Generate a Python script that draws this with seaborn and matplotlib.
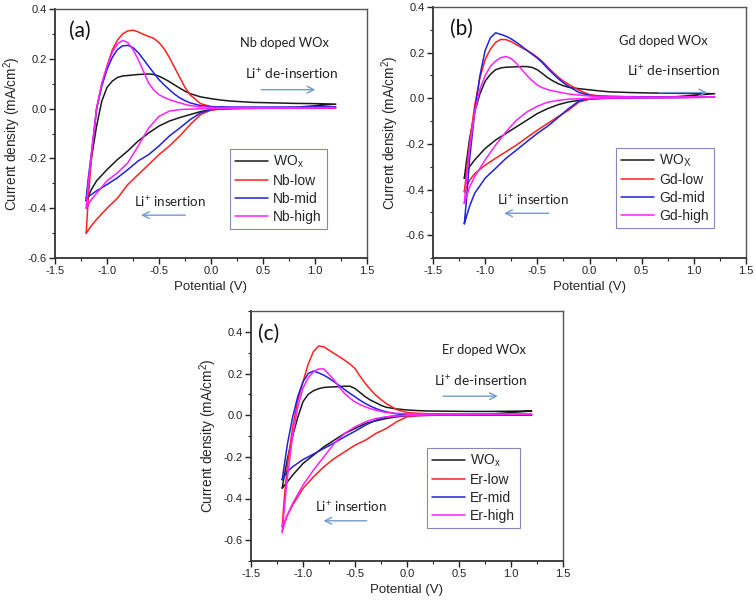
import matplotlib
matplotlib.use("Agg")
import matplotlib.pyplot as plt
import seaborn as sns
import pandas as pd
from matplotlib.ticker import MultipleLocator

# ---------------- data ----------------
E_up = [-1.2, -1.18, -1.15, -1.1, -1.05, -1.0, -0.95, -0.9, -0.85, -0.8, -0.75, -0.7,
        -0.65, -0.6, -0.55, -0.5, -0.45, -0.4, -0.35, -0.3, -0.25, -0.2, -0.1, 0.0,
        0.1, 0.2, 0.4, 0.6, 0.8, 1.0, 1.2]
E_dn = [1.2, 0.8, 0.4, 0.2, 0.1, 0.0, -0.1, -0.2, -0.3, -0.4, -0.5, -0.6, -0.7, -0.8,
        -0.9, -1.0, -1.1, -1.15, -1.2]

# panel (a) Nb doped
a_wox_up = [-0.37, -0.30, -0.20, -0.07, 0.03, 0.085, 0.11, 0.125, 0.131, 0.133, 0.135, 0.137,
            0.138, 0.139, 0.137, 0.13, 0.12, 0.108, 0.095, 0.082, 0.07, 0.06, 0.047, 0.04,
            0.034, 0.03, 0.025, 0.023, 0.021, 0.02, 0.018]
a_wox_dn = [0.018, 0.005, 0.003, 0.001, -0.001, -0.004, -0.012, -0.024, -0.036, -0.05, -0.07,
            -0.098, -0.13, -0.17, -0.205, -0.245, -0.29, -0.325, -0.37]
a_low_up = [-0.50, -0.36, -0.20, 0.0, 0.10, 0.17, 0.235, 0.275, 0.30, 0.312, 0.315, 0.308,
            0.298, 0.29, 0.282, 0.265, 0.24, 0.205, 0.165, 0.125, 0.085, 0.055, 0.02, 0.008,
            0.005, 0.004, 0.004, 0.003, 0.003, 0.003, 0.003]
a_low_dn = [0.003, 0.002, 0.001, 0.0, -0.002, -0.006, -0.024, -0.064, -0.11, -0.15, -0.185,
            -0.225, -0.265, -0.305, -0.36, -0.40, -0.445, -0.47, -0.50]
a_mid_up = [-0.36, -0.28, -0.18, 0.0, 0.09, 0.157, 0.205, 0.237, 0.252, 0.254, 0.245, 0.225,
            0.198, 0.17, 0.143, 0.116, 0.095, 0.076, 0.058, 0.043, 0.032, 0.023, 0.012, 0.008,
            0.007, 0.006, 0.006, 0.006, 0.006, 0.006, 0.006]
a_mid_dn = [0.006, 0.003, 0.001, 0.0, -0.001, -0.004, -0.017, -0.044, -0.078, -0.11, -0.15,
            -0.185, -0.21, -0.245, -0.278, -0.305, -0.33, -0.345, -0.36]
a_high_up = [-0.40, -0.30, -0.18, 0.0, 0.10, 0.17, 0.225, 0.26, 0.274, 0.265, 0.237, 0.197,
             0.15, 0.103, 0.075, 0.056, 0.045, 0.036, 0.029, 0.023, 0.017, 0.012, 0.007, 0.005,
             0.004, 0.004, 0.004, 0.004, 0.004, 0.004, 0.004]
a_high_dn = [0.004, 0.003, 0.002, 0.001, 0.0, -0.001, -0.001, -0.002, -0.004, -0.01, -0.031,
             -0.078, -0.15, -0.218, -0.258, -0.29, -0.34, -0.365, -0.40]

# panel (b) Gd doped
b_wox_up = [-0.35, -0.28, -0.18, -0.06, 0.02, 0.075, 0.105, 0.125, 0.133, 0.136, 0.137, 0.138,
            0.139, 0.139, 0.135, 0.125, 0.108, 0.09, 0.076, 0.064, 0.055, 0.048, 0.042, 0.037,
            0.032, 0.028, 0.025, 0.023, 0.022, 0.021, 0.02]
b_wox_dn = [0.02, 0.006, 0.003, 0.001, -0.001, -0.004, -0.009, -0.016, -0.028, -0.045, -0.067,
            -0.096, -0.125, -0.154, -0.183, -0.22, -0.27, -0.30, -0.35]
b_low_up = [-0.41, -0.33, -0.20, -0.03, 0.09, 0.17, 0.215, 0.245, 0.258, 0.257, 0.248, 0.235,
            0.222, 0.21, 0.196, 0.18, 0.16, 0.137, 0.114, 0.093, 0.075, 0.061, 0.035, 0.016,
            0.01, 0.008, 0.006, 0.006, 0.005, 0.005, 0.005]
b_low_dn = [0.005, 0.003, 0.002, 0.0, -0.001, -0.004, -0.016, -0.052, -0.08, -0.11, -0.14,
            -0.172, -0.205, -0.234, -0.263, -0.293, -0.33, -0.36, -0.41]
b_mid_up = [-0.55, -0.45, -0.27, -0.06, 0.10, 0.21, 0.265, 0.287, 0.28, 0.272, 0.26, 0.245,
            0.228, 0.21, 0.193, 0.176, 0.155, 0.13, 0.108, 0.086, 0.068, 0.052, 0.025, 0.013,
            0.009, 0.008, 0.007, 0.006, 0.006, 0.005, 0.005]
b_mid_dn = [0.005, 0.003, 0.002, 0.001, 0.0, -0.001, -0.012, -0.045, -0.084, -0.122, -0.154,
            -0.19, -0.227, -0.263, -0.307, -0.35, -0.416, -0.474, -0.55]
b_high_up = [-0.46, -0.36, -0.22, -0.06, 0.04, 0.10, 0.14, 0.163, 0.178, 0.183, 0.174, 0.153,
             0.126, 0.10, 0.077, 0.058, 0.046, 0.038, 0.032, 0.028, 0.023, 0.019, 0.014, 0.01,
             0.008, 0.007, 0.006, 0.005, 0.005, 0.005, 0.005]
b_high_dn = [0.005, 0.003, 0.002, 0.001, 0.0, -0.001, -0.002, -0.004, -0.009, -0.017, -0.035,
             -0.06, -0.096, -0.147, -0.205, -0.27, -0.343, -0.39, -0.46]

# panel (c) Er doped
c_wox_up = [-0.35, -0.29, -0.21, -0.10, -0.01, 0.065, 0.10, 0.117, 0.127, 0.133, 0.135, 0.136,
            0.137, 0.139, 0.139, 0.128, 0.108, 0.088, 0.072, 0.06, 0.047, 0.038, 0.03, 0.025,
            0.022, 0.02, 0.019, 0.018, 0.018, 0.019, 0.02]
c_wox_dn = [0.02, 0.005, 0.002, 0.0, -0.001, -0.003, -0.008, -0.016, -0.027, -0.04, -0.064,
            -0.088, -0.12, -0.152, -0.192, -0.232, -0.288, -0.32, -0.35]
c_low_up = [-0.535, -0.40, -0.24, -0.06, 0.07, 0.16, 0.245, 0.305, 0.332, 0.328, 0.312, 0.296,
            0.28, 0.264, 0.246, 0.224, 0.186, 0.152, 0.122, 0.096, 0.075, 0.056, 0.027, 0.013,
            0.009, 0.007, 0.006, 0.005, 0.004, 0.003, 0.003]
c_low_dn = [0.003, 0.002, 0.001, -0.001, -0.003, -0.008, -0.032, -0.064, -0.088, -0.12, -0.144,
            -0.176, -0.208, -0.248, -0.296, -0.352, -0.432, -0.48, -0.535]
c_mid_up = [-0.31, -0.24, -0.14, -0.01, 0.09, 0.16, 0.20, 0.212, 0.203, 0.192, 0.177, 0.16,
            0.142, 0.123, 0.105, 0.088, 0.071, 0.056, 0.043, 0.032, 0.023, 0.016, 0.006, 0.003,
            0.002, 0.002, 0.001, 0.001, 0.001, 0.001, 0.0]
c_mid_dn = [0.0, 0.0, 0.0, -0.001, -0.001, -0.001, -0.003, -0.008, -0.024, -0.048, -0.077,
            -0.104, -0.133, -0.16, -0.187, -0.213, -0.248, -0.27, -0.31]
c_high_up = [-0.565, -0.45, -0.30, -0.10, 0.04, 0.13, 0.18, 0.208, 0.222, 0.222, 0.196, 0.168,
             0.133, 0.104, 0.082, 0.064, 0.05, 0.04, 0.031, 0.024, 0.018, 0.013, 0.009, 0.006,
             0.005, 0.005, 0.004, 0.004, 0.004, 0.004, 0.004]
c_high_dn = [0.004, 0.003, 0.002, 0.001, 0.0, -0.002, -0.004, -0.008, -0.016, -0.032, -0.056,
             -0.088, -0.136, -0.2, -0.264, -0.336, -0.424, -0.48, -0.555]

labels_a = ["WO$_x$", "Nb-low", "Nb-mid", "Nb-high"]
labels_b = ["WO$_X$", "Gd-low", "Gd-mid", "Gd-high"]
labels_c = ["WO$_x$", "Er-low", "Er-mid", "Er-high"]
titles = ["Nb doped WOx", "Gd doped WOx", "Er doped WOx"]
panel_tags = ["(a)", "(b)", "(c)"]
colors = ["#1a1a1a", "#ff2020", "#2020e0", "#ff20ff"]

# ---------------- styling ----------------
sns.set_theme(style="ticks")
plt.rcParams["font.family"] = ["Liberation Sans", "DejaVu Sans"]
plt.rcParams["mathtext.fontset"] = "custom"
plt.rcParams["mathtext.rm"] = "Liberation Sans"
plt.rcParams["mathtext.it"] = "Liberation Sans"

fig = plt.figure(figsize=(7.56, 6.03), dpi=100)
W, H = 756, 603


def make_ax(l, t, r, b):
    return fig.add_axes([l / W, 1 - b / H, (r - l) / W, (b - t) / H])


ax_a = make_ax(55, 9, 367, 258)
ax_b = make_ax(433, 7, 746, 258)
ax_c = make_ax(251, 311, 563, 561)


def build(labels, ups, dns):
    rows = []
    for lab, u, d in zip(labels, ups, dns):
        k = 0
        for e, j in zip(E_up, u):
            rows.append((lab, k, e, j)); k += 1
        for e, j in zip(E_dn, d):
            rows.append((lab, k, e, j)); k += 1
    return pd.DataFrame(rows, columns=["series", "idx", "E", "j"])


df_a = build(labels_a, [a_wox_up, a_low_up, a_mid_up, a_high_up],
             [a_wox_dn, a_low_dn, a_mid_dn, a_high_dn])
df_b = build(labels_b, [b_wox_up, b_low_up, b_mid_up, b_high_up],
             [b_wox_dn, b_low_dn, b_mid_dn, b_high_dn])
df_c = build(labels_c, [c_wox_up, c_low_up, c_mid_up, c_high_up],
             [c_wox_dn, c_low_dn, c_mid_dn, c_high_dn])

arrow_col = "#6f9bd1"
anno_font = ["Lato", "DejaVu Sans"]

panels = [
    dict(ax=ax_a, df=df_a, labels=labels_a, ylim=(-0.6, 0.4), leg=(0.561, 0.438),
         title_xy=(0.71, 0.264), de_xy=(0.78, 0.143), de_arrow=((0.456, 0.076), (1.03, 0.076)),
         in_xy=(-0.395, -0.372), in_arrow=((-0.22, -0.428), (-0.70, -0.428)), tag_xy=(-1.26, 0.314)),
    dict(ax=ax_b, df=df_b, labels=labels_b, ylim=(-0.7, 0.4), leg=(0.585, 0.438),
         title_xy=(0.707, 0.253), de_xy=(0.81, 0.122), de_arrow=((0.643, 0.025), (1.155, 0.025)),
         in_xy=(-0.54, -0.445), in_arrow=((-0.365, -0.504), (-0.845, -0.504)), tag_xy=(-1.23, 0.304)),
    dict(ax=ax_c, df=df_c, labels=labels_c, ylim=(-0.7, 0.5), leg=(0.564, 0.452),
         title_xy=(0.744, 0.312), de_xy=(0.705, 0.168), de_arrow=((0.32, 0.091), (0.90, 0.091)),
         in_xy=(-0.54, -0.44), in_arrow=((-0.36, -0.507), (-0.83, -0.507)), tag_xy=(-1.33, 0.389)),
]

for p, title, tag in zip(panels, titles, panel_tags):
    ax = p["ax"]
    sns.lineplot(data=p["df"], x="E", y="j", hue="series", hue_order=p["labels"],
                 palette=colors, sort=False, estimator=None, units="series",
                 linewidth=1.1, ax=ax)
    ax.set_xlim(-1.5, 1.5)
    ax.set_ylim(*p["ylim"])
    ax.xaxis.set_major_locator(MultipleLocator(0.5))
    ax.xaxis.set_minor_locator(MultipleLocator(0.25))
    ax.yaxis.set_major_locator(MultipleLocator(0.2))
    ax.yaxis.set_minor_locator(MultipleLocator(0.1))
    ax.xaxis.set_major_formatter(plt.FuncFormatter(lambda v, _: f"{v:.1f}"))
    ax.yaxis.set_major_formatter(plt.FuncFormatter(lambda v, _: f"{v:.1f}"))
    ax.tick_params(which="major", direction="out", length=4, width=1, labelsize=8, pad=2,
                   colors="#222222")
    ax.tick_params(which="minor", direction="out", length=2.5, width=0.8, colors="#222222")
    for s in ["left", "bottom"]:
        ax.spines[s].set_linewidth(1.3)
        ax.spines[s].set_color("#333333")
    for s in ["top", "right"]:
        ax.spines[s].set_linewidth(1.0)
        ax.spines[s].set_color("#555555")
    ax.set_xlabel("Potential (V)", fontsize=9.5, labelpad=3)
    ax.set_ylabel("Current density (mA/cm$^2$)", fontsize=9.8, labelpad=3)

    sns.move_legend(ax, "upper left", bbox_to_anchor=p["leg"], borderaxespad=0, title=None,
                    frameon=True, fancybox=False, edgecolor="#8888b8", framealpha=1,
                    fontsize=10, handlelength=2.4, handletextpad=0.35, labelspacing=0.28,
                    borderpad=0.35)
    leg = ax.get_legend()
    leg.get_frame().set_linewidth(0.8)
    for ln in leg.get_lines():
        ln.set_linewidth(1.1)

    ax.text(*p["title_xy"], title, ha="center", va="center", fontsize=9.3, family=anno_font,
            color="#222222")
    ax.text(*p["de_xy"], "Li$^{+}$ de-insertion", ha="center", va="center", fontsize=9.8,
            family=anno_font, color="#222222")
    ax.text(*p["in_xy"], "Li$^{+}$ insertion", ha="center", va="center", fontsize=9.6,
            family=anno_font, color="#222222")
    (x0, y0), (x1, y1) = p["de_arrow"]
    ax.annotate("", xy=(x1, y1), xytext=(x0, y0),
                arrowprops=dict(arrowstyle="->", color=arrow_col, lw=1.0, mutation_scale=12))
    (x0, y0), (x1, y1) = p["in_arrow"]
    ax.annotate("", xy=(x1, y1), xytext=(x0, y0),
                arrowprops=dict(arrowstyle="->", color=arrow_col, lw=1.0, mutation_scale=12))
    ax.text(*p["tag_xy"], tag, ha="center", va="center", fontsize=15, family=anno_font,
            color="#111111")

fig.savefig("out.png", dpi=100)
